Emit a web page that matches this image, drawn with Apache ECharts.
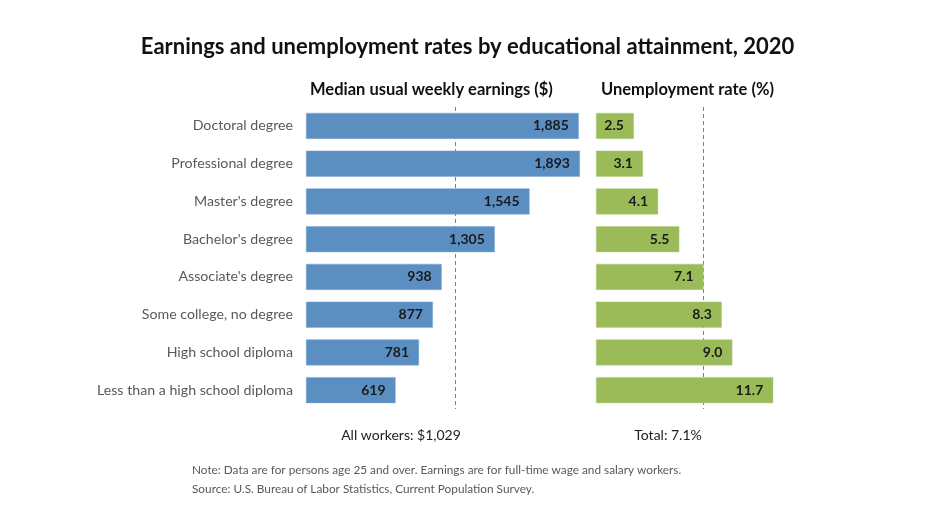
<!DOCTYPE html>
<html><head><meta charset="utf-8">
<script src="https://cdn.jsdelivr.net/npm/echarts@6/dist/echarts.min.js"></script>
<style>html,body{margin:0;padding:0;background:#fff}#c{width:935px;height:524px}</style>
</head><body><div id="c"></div>
<script>
const categories = ["Doctoral degree","Professional degree","Master's degree","Bachelor's degree","Associate's degree","Some college, no degree","High school diploma","Less than a high school diploma"];
const earnings = [1885,1893,1545,1305,938,877,781,619];
const unemployment = [2.5,3.1,4.1,5.5,7.1,8.3,9.0,11.7];
const allWorkersEarnings = 1029;
const totalUnemployment = 7.1;

const FONT = 'Lato, "Open Sans", sans-serif';
const chart = echarts.init(document.getElementById('c'), null, {renderer:'canvas'});
const dashLine = (axisIdx, val) => ({
  type:'line', xAxisIndex:axisIdx, yAxisIndex:axisIdx, data:[], z:1, silent:true,
  markLine:{silent:true, z:1, symbol:['none','none'], label:{show:false},
    lineStyle:{color:'#7f7f7f', type:[4,3], width:1},
    data:[{xAxis:val}]}
});
chart.setOption({
  animation:false,
  textStyle:{fontFamily:FONT},
  title:[
    {text:'Earnings and unemployment rates by educational attainment, 2020', left:'center', top:31,
     textStyle:{fontFamily:FONT, fontSize:22, fontWeight:'bold', color:'#111'}},
    {text:'Median usual weekly earnings ($)', left:305, top:76,
     textStyle:{fontFamily:FONT, fontSize:16.5, fontWeight:'bold', color:'#111'}},
    {text:'Unemployment rate (%)', left:596, top:76,
     textStyle:{fontFamily:FONT, fontSize:16.5, fontWeight:'bold', color:'#111'}},
    {text:'All workers: $' + allWorkersEarnings.toLocaleString('en-US'), left:396, top:423, textAlign:'center',
     textStyle:{fontFamily:FONT, fontSize:14, fontWeight:'normal', color:'#222'}},
    {text:'Total: ' + totalUnemployment.toFixed(1) + '%', left:663, top:423, textAlign:'center',
     textStyle:{fontFamily:FONT, fontSize:14, fontWeight:'normal', color:'#222'}},
    {text:'Note: Data are for persons age 25 and over. Earnings are for full-time wage and salary workers.\nSource: U.S. Bureau of Labor Statistics, Current Population Survey.', left:187, top:456,
     textStyle:{fontFamily:FONT, fontSize:11.8, fontWeight:'normal', color:'#595959', lineHeight:19}}
  ],
  grid:[
    {left:306, top:107, width:289.4, height:302},
    {left:596, top:107, width:181.8, height:302}
  ],
  xAxis:[
    {gridIndex:0, type:'value', min:0, max:2000, show:false, splitLine:{show:false}},
    {gridIndex:1, type:'value', min:0, max:12, show:false, splitLine:{show:false}}
  ],
  yAxis:[
    {gridIndex:0, type:'category', data:categories, inverse:true,
     axisLine:{show:false}, axisTick:{show:false}, splitLine:{show:false},
     axisLabel:{margin:13, fontFamily:FONT, fontSize:14.2, color:'#595959'}},
    {gridIndex:1, type:'category', data:categories, inverse:true, show:false}
  ],
  series:[
    dashLine(0, allWorkersEarnings),
    dashLine(1, totalUnemployment),
    {type:'bar', xAxisIndex:0, yAxisIndex:0, data:earnings, z:3, barWidth:26,
     itemStyle:{color:'#5B8FC2', borderColor:'#7FA8D2', borderWidth:0.5},
     label:{show:true, position:'insideRight', distance:10, fontFamily:FONT, fontSize:14, fontWeight:'bold', color:'#1a1a1a',
       formatter:p=>p.value.toLocaleString('en-US')}},
    {type:'bar', xAxisIndex:1, yAxisIndex:1, data:unemployment, z:3, barWidth:26,
     itemStyle:{color:'#9BBB59', borderColor:'#B3CC80', borderWidth:0.5},
     label:{show:true, position:'insideRight', distance:10, fontFamily:FONT, fontSize:14, fontWeight:'bold', color:'#1a1a1a',
       formatter:p=>p.value.toFixed(1)}}
  ]
});
</script></body></html>
